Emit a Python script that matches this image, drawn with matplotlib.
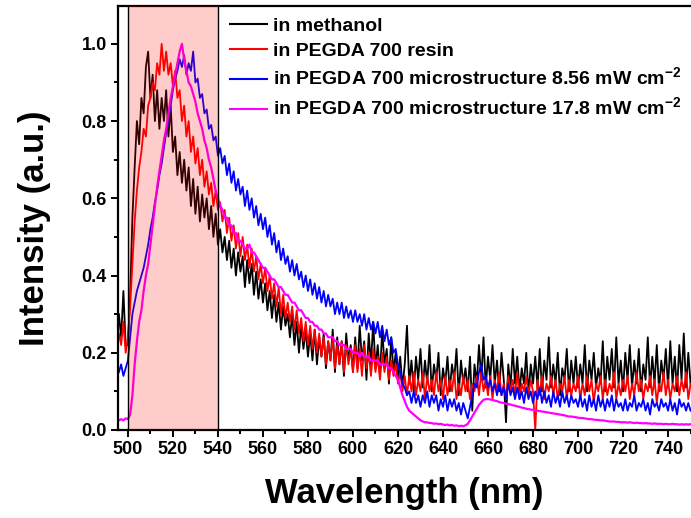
import numpy as np
import matplotlib
matplotlib.use("Agg")
import matplotlib.pyplot as plt
from matplotlib.ticker import MultipleLocator, FormatStrFormatter

plt.rcParams['font.family'] = ['Liberation Sans', 'DejaVu Sans']
plt.rcParams['font.weight'] = 'bold'
plt.rcParams['mathtext.fontset'] = 'custom'
plt.rcParams['mathtext.rm'] = 'Liberation Sans:bold'
plt.rcParams['mathtext.bf'] = 'Liberation Sans:bold'

start_nm = 496  # first wavelength of each 1-nm-spaced series

methanol = [
    0.30, 0.24, 0.36, 0.22,
    0.22, 0.35, 0.55, 0.68, 0.80, 0.74, 0.86, 0.82, 0.94, 0.98,
    0.86, 0.92, 0.80, 0.88, 0.78, 0.86, 0.80, 0.88, 0.76, 0.84,
    0.72, 0.76, 0.66, 0.72, 0.64, 0.70, 0.62, 0.68, 0.58, 0.65,
    0.56, 0.63, 0.54, 0.61, 0.55, 0.60, 0.52, 0.58, 0.50, 0.56, 0.48,
    0.52, 0.46, 0.50, 0.44, 0.49, 0.42, 0.47, 0.40, 0.46, 0.41,
    0.45, 0.37, 0.44, 0.38, 0.43, 0.35, 0.41, 0.34, 0.39, 0.33,
    0.38, 0.31, 0.36, 0.29, 0.35, 0.28, 0.33, 0.26, 0.32, 0.27,
    0.30, 0.24, 0.30, 0.22, 0.28, 0.20, 0.27, 0.21, 0.26, 0.19,
    0.25, 0.18, 0.26, 0.17, 0.24, 0.19, 0.25, 0.16, 0.23, 0.18,
    0.26, 0.15, 0.24, 0.17, 0.23, 0.14, 0.25, 0.18, 0.22, 0.15,
    0.24, 0.16, 0.27, 0.18, 0.23, 0.13, 0.25, 0.17, 0.28, 0.16,
    0.22, 0.14, 0.26, 0.17, 0.21, 0.12, 0.24, 0.15, 0.20, 0.13,
    0.19, 0.11, 0.17, 0.27, 0.12, 0.18, 0.10, 0.19, 0.13, 0.21,
    0.11, 0.18, 0.12, 0.22, 0.10, 0.17, 0.13, 0.20, 0.09, 0.16,
    0.12, 0.19, 0.10, 0.17, 0.13, 0.21, 0.09, 0.18, 0.12, 0.16,
    0.10, 0.19, 0.05, 0.17, 0.12, 0.22, 0.13, 0.24, 0.11, 0.19,
    0.13, 0.22, 0.12, 0.18, 0.10, 0.20, 0.13, 0.02, 0.17, 0.11,
    0.21, 0.12, 0.19, 0.10, 0.16, 0.12, 0.20, 0.09, 0.17, 0.12,
    0.19, 0.11, 0.21, 0.10, 0.18, 0.13, 0.24, 0.11, 0.17, 0.12,
    0.20, 0.09, 0.16, 0.13, 0.21, 0.10, 0.18, 0.12, 0.19, 0.11,
    0.17, 0.12, 0.22, 0.10, 0.18, 0.13, 0.20, 0.11, 0.16, 0.12,
    0.23, 0.10, 0.19, 0.13, 0.21, 0.11, 0.24, 0.12, 0.18, 0.10,
    0.20, 0.13, 0.22, 0.11, 0.18, 0.12, 0.21, 0.10, 0.17, 0.13,
    0.24, 0.11, 0.19, 0.12, 0.22, 0.10, 0.18, 0.13, 0.21, 0.11,
    0.23, 0.12, 0.19, 0.10, 0.22, 0.13, 0.25, 0.11, 0.20, 0.12,
]

resin = [
    0.25, 0.22, 0.28, 0.20,
    0.24, 0.32, 0.43, 0.54, 0.62, 0.68, 0.72, 0.78, 0.76, 0.84,
    0.86, 0.90, 0.88, 0.95, 0.92, 1.00, 0.93, 0.98, 0.92, 0.95,
    0.89, 0.93, 0.86, 0.88, 0.80, 0.84, 0.76, 0.80, 0.72, 0.76,
    0.69, 0.73, 0.66, 0.70, 0.63, 0.67, 0.61, 0.64, 0.58, 0.62, 0.57,
    0.59, 0.54, 0.57, 0.51, 0.55, 0.49, 0.53, 0.47, 0.51, 0.45,
    0.50, 0.44, 0.48, 0.42, 0.47, 0.41, 0.45, 0.39, 0.43, 0.38,
    0.42, 0.36, 0.40, 0.34, 0.38, 0.32, 0.37, 0.30, 0.35, 0.29,
    0.33, 0.28, 0.32, 0.26, 0.31, 0.25, 0.29, 0.23, 0.28, 0.22,
    0.27, 0.21, 0.26, 0.20, 0.25, 0.19, 0.24, 0.17, 0.23, 0.18,
    0.24, 0.16, 0.22, 0.17, 0.23, 0.15, 0.22, 0.17, 0.21, 0.15,
    0.22, 0.15, 0.21, 0.14, 0.22, 0.16, 0.20, 0.14, 0.21, 0.15,
    0.19, 0.13, 0.20, 0.15, 0.19, 0.13, 0.18, 0.14, 0.17, 0.12,
    0.15, 0.10, 0.14, 0.09, 0.14, 0.10, 0.15, 0.09, 0.13, 0.10,
    0.15, 0.08, 0.14, 0.10, 0.13, 0.09, 0.15, 0.10, 0.13, 0.08,
    0.14, 0.09, 0.13, 0.10, 0.15, 0.08, 0.12, 0.09, 0.14, 0.10,
    0.13, 0.08, 0.12, 0.10, 0.14, 0.09, 0.15, 0.10, 0.13, 0.09,
    0.14, 0.08, 0.13, 0.10, 0.15, 0.09, 0.12, 0.08, 0.14, 0.10,
    0.13, 0.09, 0.15, 0.08, 0.12, 0.10, 0.14, 0.09, 0.13, 0.10,
    0.00, 0.13, 0.09, 0.14, 0.08, 0.12, 0.10, 0.14, 0.09, 0.13,
    0.08, 0.12, 0.10, 0.14, 0.08, 0.13, 0.09, 0.12, 0.10, 0.14,
    0.08, 0.12, 0.09, 0.14, 0.10, 0.13, 0.07, 0.12, 0.10, 0.14,
    0.08, 0.13, 0.09, 0.12, 0.10, 0.15, 0.08, 0.12, 0.09, 0.13,
    0.10, 0.14, 0.08, 0.12, 0.09, 0.15, 0.10, 0.13, 0.08, 0.12,
    0.10, 0.14, 0.09, 0.13, 0.07, 0.12, 0.10, 0.15, 0.09, 0.13,
    0.08, 0.12, 0.10, 0.14, 0.09, 0.13, 0.10, 0.15, 0.08, 0.12,
]

micro_856 = [
    0.15, 0.17, 0.14, 0.16,
    0.18, 0.24, 0.30, 0.33, 0.36, 0.38, 0.40, 0.42, 0.45, 0.48,
    0.52, 0.55, 0.59, 0.62, 0.66, 0.69, 0.73, 0.77, 0.80, 0.84,
    0.88, 0.91, 0.93, 0.96, 0.94, 0.97, 0.92, 0.95, 0.93, 0.98,
    0.90, 0.91, 0.86, 0.87, 0.82, 0.83, 0.78, 0.79, 0.75, 0.76, 0.71,
    0.73, 0.69, 0.71, 0.66, 0.69, 0.64, 0.67, 0.62, 0.65, 0.61,
    0.63, 0.58, 0.62, 0.57, 0.60, 0.55, 0.58, 0.53, 0.56, 0.52,
    0.55, 0.50, 0.53, 0.48, 0.51, 0.46, 0.49, 0.44, 0.47, 0.43,
    0.45, 0.41, 0.44, 0.40, 0.43, 0.39, 0.41, 0.37, 0.40, 0.36,
    0.39, 0.35, 0.38, 0.34, 0.37, 0.33, 0.36, 0.32, 0.35, 0.32,
    0.34, 0.30, 0.33, 0.30, 0.33, 0.29, 0.32, 0.29, 0.31, 0.28,
    0.31, 0.28, 0.30, 0.27, 0.30, 0.26, 0.29, 0.26, 0.28, 0.25,
    0.28, 0.24, 0.27, 0.23, 0.26, 0.22, 0.24, 0.20, 0.21, 0.17,
    0.15, 0.12, 0.11, 0.09, 0.10, 0.07, 0.10, 0.07, 0.09, 0.06,
    0.09, 0.07, 0.10, 0.06, 0.09, 0.07, 0.09, 0.05, 0.08, 0.06,
    0.09, 0.05, 0.08, 0.06, 0.08, 0.05, 0.07, 0.04, 0.07, 0.05,
    0.03, 0.06, 0.09, 0.12, 0.11, 0.15, 0.17, 0.13, 0.14, 0.11,
    0.13, 0.10, 0.12, 0.09, 0.12, 0.09, 0.11, 0.08, 0.12, 0.09,
    0.11, 0.08, 0.11, 0.08, 0.10, 0.07, 0.11, 0.08, 0.10, 0.07,
    0.10, 0.08, 0.11, 0.07, 0.10, 0.07, 0.09, 0.06, 0.10, 0.07,
    0.09, 0.06, 0.10, 0.07, 0.09, 0.06, 0.09, 0.07, 0.08, 0.06,
    0.09, 0.06, 0.08, 0.05, 0.09, 0.06, 0.08, 0.05, 0.09, 0.06,
    0.08, 0.05, 0.08, 0.06, 0.09, 0.05, 0.08, 0.06, 0.07, 0.05,
    0.08, 0.05, 0.07, 0.06, 0.09, 0.05, 0.07, 0.06, 0.08, 0.05,
    0.07, 0.04, 0.08, 0.06, 0.07, 0.05, 0.08, 0.06, 0.07, 0.05,
    0.08, 0.05, 0.07, 0.04, 0.08, 0.06, 0.07, 0.05, 0.07, 0.05,
]

micro_178 = [
    0.025, 0.028, 0.025, 0.030,
    0.028, 0.04, 0.09, 0.17, 0.23, 0.28, 0.31, 0.36, 0.40, 0.43,
    0.48, 0.53, 0.58, 0.63, 0.67, 0.71, 0.75, 0.78, 0.82, 0.86,
    0.89, 0.92, 0.95, 0.98, 1.00, 0.96, 0.93, 0.90, 0.89, 0.87,
    0.85, 0.82, 0.80, 0.78, 0.75, 0.73, 0.70, 0.68, 0.65, 0.62, 0.60,
    0.58, 0.57, 0.55, 0.55, 0.53, 0.53, 0.51, 0.51, 0.49, 0.49,
    0.48, 0.47, 0.47, 0.48, 0.46, 0.46, 0.45, 0.44, 0.43, 0.42,
    0.42, 0.41, 0.40, 0.39, 0.39, 0.38, 0.37, 0.37, 0.36, 0.35,
    0.35, 0.34, 0.33, 0.33, 0.32, 0.31, 0.31, 0.30, 0.29, 0.29,
    0.28, 0.28, 0.27, 0.27, 0.26, 0.26, 0.25, 0.25, 0.24, 0.24,
    0.24, 0.23, 0.23, 0.22, 0.22, 0.22, 0.21, 0.21, 0.21, 0.20,
    0.20, 0.20, 0.19, 0.20, 0.19, 0.19, 0.19, 0.18, 0.18, 0.18,
    0.18, 0.17, 0.17, 0.17, 0.17, 0.16, 0.16, 0.15, 0.14, 0.13,
    0.11, 0.09, 0.075, 0.06, 0.05, 0.045, 0.04, 0.035, 0.03, 0.025,
    0.022, 0.02, 0.02, 0.018, 0.018, 0.016, 0.017, 0.015, 0.016, 0.014,
    0.013, 0.014, 0.012, 0.013, 0.011, 0.012, 0.010, 0.011, 0.010, 0.012,
    0.016, 0.025, 0.035, 0.045, 0.055, 0.065, 0.072, 0.078, 0.08, 0.08,
    0.079, 0.078, 0.076, 0.075, 0.072, 0.071, 0.07, 0.068, 0.067, 0.066,
    0.064, 0.063, 0.061, 0.06, 0.058, 0.057, 0.055, 0.054, 0.053, 0.052,
    0.051, 0.05, 0.049, 0.048, 0.047, 0.046, 0.045, 0.044, 0.043, 0.042,
    0.041, 0.04, 0.039, 0.038, 0.036, 0.035, 0.035, 0.034, 0.033, 0.032,
    0.031, 0.031, 0.03, 0.029, 0.028, 0.028, 0.027, 0.026, 0.026, 0.025,
    0.025, 0.024, 0.023, 0.022, 0.022, 0.022, 0.021, 0.021, 0.02, 0.02,
    0.02, 0.019, 0.02, 0.019, 0.018, 0.019, 0.018, 0.018, 0.017, 0.018,
    0.017, 0.017, 0.016, 0.017, 0.016, 0.016, 0.016, 0.015, 0.016, 0.015,
    0.015, 0.016, 0.015, 0.015, 0.014, 0.015, 0.014, 0.015, 0.014, 0.015,
]

labels = [
    'in methanol',
    'in PEGDA 700 resin',
    r'in PEGDA 700 microstructure 8.56 mW cm$^{-2}$',
    r'in PEGDA 700 microstructure 17.8 mW cm$^{-2}$',
]
colors = ['#000000', '#ff0000', '#0000ff', '#ff00ff']
series = [methanol, resin, micro_856, micro_178]

band = (500, 540)
x_ticks = list(range(500, 741, 20))
y_ticks = [0.0, 0.2, 0.4, 0.6, 0.8, 1.0]

fig = plt.figure(figsize=(6.91, 5.18), dpi=100)
ax = fig.add_axes([118 / 691, 88 / 518, 573 / 691, 424 / 518])

for ys, c, lab in zip(series, colors, labels):
    xs = np.arange(start_nm, start_nm + len(ys))
    lw = 1.6 if c == '#ff00ff' else 1.3
    ax.plot(xs, ys, color=c, lw=lw, label=lab, zorder=2)

ax.axvspan(band[0], band[1], facecolor='red', alpha=0.2, edgecolor='none', zorder=3)
for b in band:
    ax.axvline(b, color='black', lw=1.0, zorder=4)

ax.set_xlim(495.6, 750.2)
ax.set_ylim(0, 1.098)
ax.set_xticks(x_ticks)
ax.set_yticks(y_ticks)
ax.xaxis.set_minor_locator(MultipleLocator(10))
ax.yaxis.set_minor_locator(MultipleLocator(0.1))
ax.yaxis.set_major_formatter(FormatStrFormatter('%.1f'))

for s in ['left', 'bottom', 'top']:
    ax.spines[s].set_linewidth(1.6)
ax.spines['right'].set_visible(False)

ax.tick_params(which='both', direction='out', top=False, right=False, width=1.4)
ax.tick_params(which='major', length=5, labelsize=13, pad=3)
ax.tick_params(which='minor', length=3)
for t in ax.get_xticklabels() + ax.get_yticklabels():
    t.set_fontweight('bold')

ax.set_xlabel('Wavelength (nm)', fontsize=25, fontweight='bold')
ax.set_ylabel('Intensity (a.u.)', fontsize=25, fontweight='bold')
ax.xaxis.label.set_va('center')
ax.yaxis.label.set_va('center')
ax.xaxis.set_label_coords(0.5, -(494 - 430) / 424)
ax.yaxis.set_label_coords((35 - 118) / 573, (430 - 228) / 424)

leg = ax.legend(loc='upper left', bbox_to_anchor=(230 / 691, 1 - 17 / 518),
                bbox_transform=fig.transFigure, frameon=False,
                prop={'size': 14, 'weight': 'bold'},
                handlelength=1.9, handletextpad=0.3, labelspacing=0.38,
                borderpad=0, borderaxespad=0)
for h in leg.get_lines():
    h.set_linewidth(1.5)

fig.savefig('out.png', dpi=100)
